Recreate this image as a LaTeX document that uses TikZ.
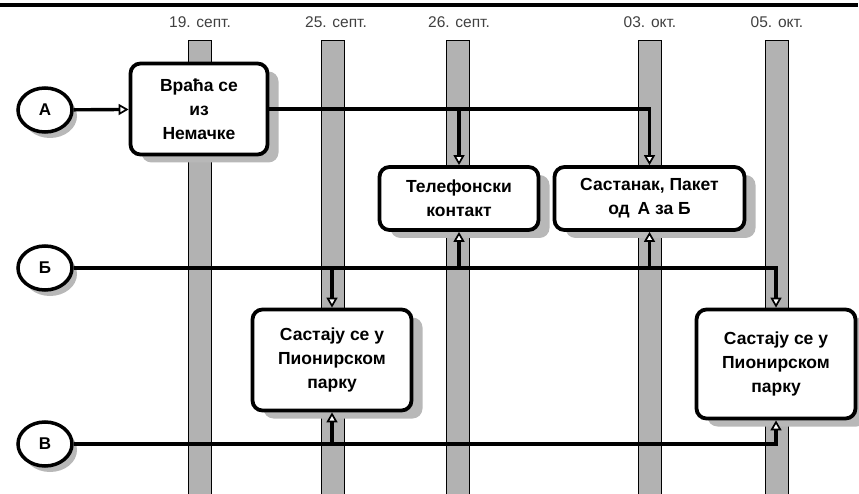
\documentclass[tikz,border=0pt]{standalone}
\usepackage{fontspec}
\setmainfont{Liberation Sans}
\usetikzlibrary{arrows.meta,shadows,shapes.geometric}
\begin{document}
\begin{tikzpicture}[x=1pt,y=-1pt,
  bar/.style={draw=black, line width=0.9pt, fill=black!30},
  datelbl/.style={text=black!75, font=\fontsize{15.5}{17}\selectfont, inner sep=0pt},
  event/.style={draw=black, line width=3.8pt, rounded corners=10pt, fill=white,
    align=center, inner sep=0pt,
    font=\bfseries\fontsize{17.5}{24}\selectfont,
    drop shadow={shadow xshift=11pt, shadow yshift=-8pt, fill=black!28, opacity=1}},
  actor/.style={draw=black, line width=3.5pt, ellipse, fill=white, inner sep=0pt,
    minimum width=54pt, minimum height=44pt,
    font=\bfseries\fontsize{17}{18}\selectfont,
    drop shadow={shadow xshift=5pt, shadow yshift=-6pt, fill=black!28, opacity=1}},
  conn/.style={line width=3.4pt, line join=miter},
  arr/.style={conn, -{Triangle[length=10pt, width=11pt, fill=white, line width=1.7pt]}}
]
\useasboundingbox (0,0) rectangle (859,494);
\clip (0,0) rectangle (859,494);
% top rule
\draw[line width=3.5pt] (0,5) -- (858,5);
% time bars
\foreach \xc in {199.5,333,458,650,776.5}
  \draw[bar] (\xc-11.5,40) rectangle (\xc+11.5,500);
% dates
\node[datelbl] (d1) at (200,22) {19. септ.};
\node[datelbl] (d2) at (336,22) {25. септ.};
\node[datelbl] (d3) at (459,22) {26. септ.};
\node[datelbl] (d4) at (650,22) {03. окт.};
\node[datelbl] (d5) at (777,22) {05. окт.};
% actors
\node[actor] (A) at (45,110) {А};
\node[actor] (B) at (45,268) {Б};
\node[actor] (V) at (45,444) {В};
% events
\node[event, minimum width=137pt, minimum height=91pt] (e1) at (199,109) {Враћа се\\из\\Немачке};
\node[event, minimum width=159pt, minimum height=63pt] (tel) at (459,198.5) {Телефонски\\контакт};
\node[event, minimum width=190pt, minimum height=63pt] (sast) at (649.5,198.5) {Састанак, Пакет\\од\, А за Б};
\node[event, minimum width=159pt, minimum height=101pt] (mL) at (332,360) {Састају се у\\Пионирском\\парку};
\node[event, minimum width=159pt, minimum height=109pt] (mR) at (776,364) {Састају се у\\Пионирском\\парку};
% connectors A
\draw[arr] (A) -- (e1);
\draw[arr] (e1.east) -| (sast.north);
\draw[arr] (tel.north |- e1.east) -- (tel.north);
% connectors Б
\draw[arr] (B) -| (mR.north);
\draw[arr] (tel.south |- B) -- (tel.south);
\draw[arr] (sast.south |- B) -- (sast.south);
\draw[arr] (mL.north |- B) -- (mL.north);
% connectors В
\draw[arr] (V) -| (mR.south);
\draw[arr] (mL.south |- V) -- (mL.south);
\end{tikzpicture}
\end{document}
